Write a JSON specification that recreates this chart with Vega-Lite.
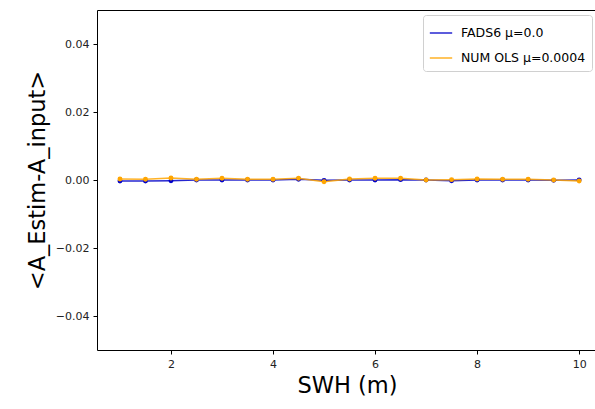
{
  "$schema": "https://vega.github.io/schema/vega-lite/v6.json",
  "autosize": "none",
  "width": 500,
  "height": 340,
  "padding": {"left": 97, "top": 10, "right": 0, "bottom": 59},
  "background": "white",
  "config": {
    "font": "DejaVu Sans",
    "view": {"stroke": "black", "strokeWidth": 1},
    "axis": {"grid": false, "domain": false, "tickColor": "black", "tickSize": 4, "labelColor": "#222", "labelFontSize": 11, "titleFontSize": 22.5, "titleFontWeight": "normal", "titleColor": "black", "labelPadding": 4}
  },
  "data": {"values": [
    {"x": 1, "y": -0.0003, "s": "FADS6 μ=0.0"},
    {"x": 1.5, "y": -0.0003, "s": "FADS6 μ=0.0"},
    {"x": 2, "y": -0.0002, "s": "FADS6 μ=0.0"},
    {"x": 2.5, "y": 0.0, "s": "FADS6 μ=0.0"},
    {"x": 3, "y": 0.0, "s": "FADS6 μ=0.0"},
    {"x": 3.5, "y": 0.0, "s": "FADS6 μ=0.0"},
    {"x": 4, "y": 0.0, "s": "FADS6 μ=0.0"},
    {"x": 4.5, "y": 0.0002, "s": "FADS6 μ=0.0"},
    {"x": 5, "y": -0.0001, "s": "FADS6 μ=0.0"},
    {"x": 5.5, "y": 0.0, "s": "FADS6 μ=0.0"},
    {"x": 6, "y": 0.0, "s": "FADS6 μ=0.0"},
    {"x": 6.5, "y": 0.0001, "s": "FADS6 μ=0.0"},
    {"x": 7, "y": 0.0, "s": "FADS6 μ=0.0"},
    {"x": 7.5, "y": -0.0002, "s": "FADS6 μ=0.0"},
    {"x": 8, "y": 0.0, "s": "FADS6 μ=0.0"},
    {"x": 8.5, "y": 0.0, "s": "FADS6 μ=0.0"},
    {"x": 9, "y": 0.0, "s": "FADS6 μ=0.0"},
    {"x": 9.5, "y": -0.0001, "s": "FADS6 μ=0.0"},
    {"x": 10, "y": 0.0, "s": "FADS6 μ=0.0"},
    {"x": 1, "y": 0.0003, "s": "NUM OLS μ=0.0004"},
    {"x": 1.5, "y": 0.0002, "s": "NUM OLS μ=0.0004"},
    {"x": 2, "y": 0.0006, "s": "NUM OLS μ=0.0004"},
    {"x": 2.5, "y": 0.0002, "s": "NUM OLS μ=0.0004"},
    {"x": 3, "y": 0.0005, "s": "NUM OLS μ=0.0004"},
    {"x": 3.5, "y": 0.0002, "s": "NUM OLS μ=0.0004"},
    {"x": 4, "y": 0.0002, "s": "NUM OLS μ=0.0004"},
    {"x": 4.5, "y": 0.0005, "s": "NUM OLS μ=0.0004"},
    {"x": 5, "y": -0.0005, "s": "NUM OLS μ=0.0004"},
    {"x": 5.5, "y": 0.0003, "s": "NUM OLS μ=0.0004"},
    {"x": 6, "y": 0.0005, "s": "NUM OLS μ=0.0004"},
    {"x": 6.5, "y": 0.0005, "s": "NUM OLS μ=0.0004"},
    {"x": 7, "y": 0.0, "s": "NUM OLS μ=0.0004"},
    {"x": 7.5, "y": 0.0001, "s": "NUM OLS μ=0.0004"},
    {"x": 8, "y": 0.0003, "s": "NUM OLS μ=0.0004"},
    {"x": 8.5, "y": 0.0002, "s": "NUM OLS μ=0.0004"},
    {"x": 9, "y": 0.0002, "s": "NUM OLS μ=0.0004"},
    {"x": 9.5, "y": 0.0, "s": "NUM OLS μ=0.0004"},
    {"x": 10, "y": -0.0003, "s": "NUM OLS μ=0.0004"}
  ]},
  "mark": {"type": "line", "strokeWidth": 1.5, "opacity": 0.85, "point": {"size": 24, "filled": true}},
  "encoding": {
    "x": {"field": "x", "type": "quantitative", "scale": {"domain": [0.55, 10.35], "nice": false, "zero": false},
      "axis": {"values": [2, 4, 6, 8, 10], "format": "d", "title": "SWH (m)", "titlePadding": 5}},
    "y": {"field": "y", "type": "quantitative", "scale": {"domain": [-0.05, 0.05], "nice": false},
      "axis": {"values": [-0.04, -0.02, 0, 0.02, 0.04], "format": ".2f", "title": "<A_Estim-A_input>", "titlePadding": 6}},
    "color": {"field": "s", "type": "nominal", "title": null,
      "scale": {"domain": ["FADS6 μ=0.0", "NUM OLS μ=0.0004"], "range": ["#0000c8", "#FFA500"]},
      "legend": {"orient": "top-right", "offset": 5, "symbolType": "stroke", "symbolStrokeWidth": 1.5, "symbolSize": 500, "labelFontSize": 12.5, "labelColor": "black", "labelOffset": 8, "fillColor": "white", "strokeColor": "#d0d0d0", "padding": 6, "cornerRadius": 3, "rowPadding": 6}}
  }
}
